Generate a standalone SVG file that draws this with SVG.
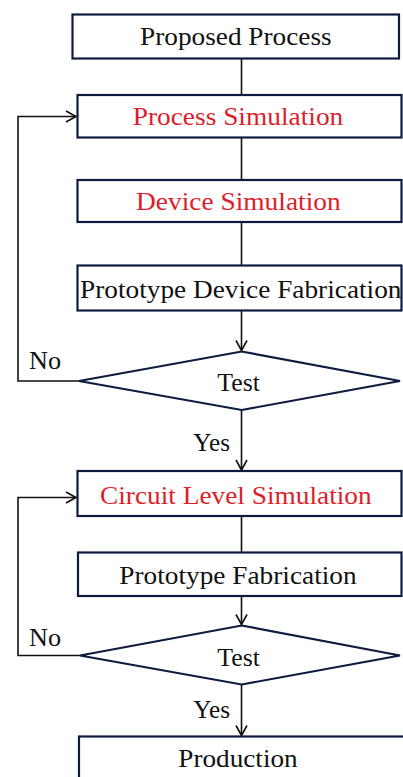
<svg xmlns="http://www.w3.org/2000/svg" width="403" height="777" viewBox="0 0 403 777">
<style>
  .box{fill:#fff;stroke:#0d1b3e;stroke-width:2.2}
  text{font-family:'Liberation Serif','DejaVu Serif',serif;font-size:25.5px;fill:#111}
  .r{fill:#dc1e2a}
  .c{fill:none;stroke:#111;stroke-width:1.6}
</style>
<defs>
  <marker id="ah" markerUnits="userSpaceOnUse" markerWidth="14" markerHeight="14" viewBox="-12 -7 14 14" refX="0" refY="0" orient="auto">
    <path d="M-10,-5.5 L0,0 L-10,5.5" fill="none" stroke="#111" stroke-width="1.6"/>
  </marker>
</defs>
<rect width="403" height="777" fill="#fff"/>
<g id="connectors" font-family="Liberation Serif, serif">
  <line class="c" x1="241.5" y1="58.5" x2="241.5" y2="95"/>
  <line class="c" x1="241.5" y1="137.5" x2="241.5" y2="180"/>
  <line class="c" x1="241.5" y1="222" x2="241.5" y2="265.5"/>
  <line class="c" x1="241.5" y1="310.5" x2="241.5" y2="350.5" marker-end="url(#ah)"/>
  <line class="c" x1="241.5" y1="410" x2="241.5" y2="470" marker-end="url(#ah)"/>
  <line class="c" x1="241.5" y1="516" x2="241.5" y2="552.5"/>
  <line class="c" x1="241.5" y1="596" x2="241.5" y2="624.5" marker-end="url(#ah)"/>
  <line class="c" x1="241.5" y1="684.5" x2="241.5" y2="735.5" marker-end="url(#ah)"/>
  <polyline class="c" points="79,381 18,381 18,116.5 76,116.5" marker-end="url(#ah)"/>
  <polyline class="c" points="80,655.5 18,655.5 18,497.5 76,497.5" marker-end="url(#ah)"/>
  <text x="29" y="369.3" textLength="32" lengthAdjust="spacingAndGlyphs">No</text>
  <text x="193.3" y="451" textLength="36.7" lengthAdjust="spacingAndGlyphs">Yes</text>
  <text x="29" y="646.3" textLength="32" lengthAdjust="spacingAndGlyphs">No</text>
  <text x="193.3" y="718" textLength="36.7" lengthAdjust="spacingAndGlyphs">Yes</text>
</g>
<g id="proposed">
  <rect class="box" x="72.5" y="14.5" width="326.5" height="44"/>
  <text x="140" y="45" textLength="191.7" lengthAdjust="spacingAndGlyphs">Proposed Process</text>
</g>
<g id="process-sim">
  <rect class="box" x="77.5" y="95" width="324" height="42.5"/>
  <text class="r" x="132.7" y="125" textLength="210.6" lengthAdjust="spacingAndGlyphs">Process Simulation</text>
</g>
<g id="device-sim">
  <rect class="box" x="77.5" y="180" width="324" height="42"/>
  <text class="r" x="136" y="210" textLength="204.7" lengthAdjust="spacingAndGlyphs">Device Simulation</text>
</g>
<g id="proto-device">
  <rect class="box" x="77.5" y="265.5" width="324" height="45"/>
  <text x="80" y="297.7" textLength="321.5" lengthAdjust="spacingAndGlyphs">Prototype Device Fabrication</text>
</g>
<g id="test1">
  <polygon class="box" points="79,381 241.7,351.5 400,381 241.7,410"/>
  <text x="217.3" y="390.7" textLength="42.7" lengthAdjust="spacingAndGlyphs">Test</text>
</g>
<g id="circuit-sim">
  <rect class="box" x="77.5" y="471" width="324" height="45"/>
  <text class="r" x="100" y="504.3" textLength="271.7" lengthAdjust="spacingAndGlyphs">Circuit Level Simulation</text>
</g>
<g id="proto-fab">
  <rect class="box" x="78" y="552.5" width="323.5" height="43.5"/>
  <text x="119.3" y="583.7" textLength="237.3" lengthAdjust="spacingAndGlyphs">Prototype Fabrication</text>
</g>
<g id="test2">
  <polygon class="box" points="80,655.5 241.7,625.5 400,655.5 241.7,684.5"/>
  <text x="217.3" y="666" textLength="42.7" lengthAdjust="spacingAndGlyphs">Test</text>
</g>
<g id="production">
  <rect class="box" x="79" y="736.5" width="330" height="60"/>
  <text x="178.3" y="767" textLength="119.4" lengthAdjust="spacingAndGlyphs">Production</text>
</g>
</svg>
